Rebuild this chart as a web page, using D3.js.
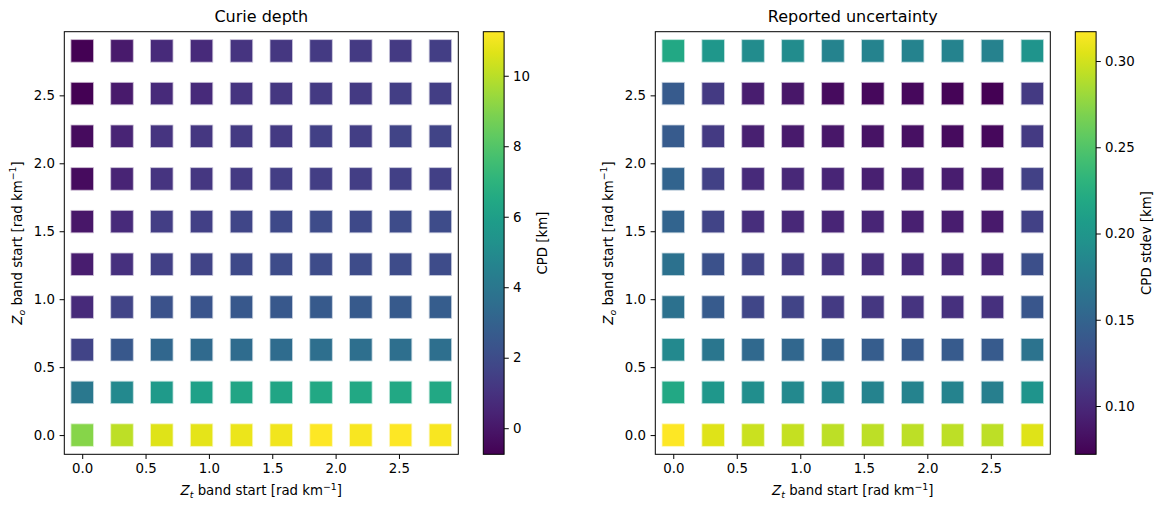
<!DOCTYPE html>
<html>
<head>
<meta charset="utf-8">
<script src="https://cdn.jsdelivr.net/npm/d3@7"></script>
<style>
  body { margin: 0; background: #fff; }
  text { font-family: "DejaVu Sans", sans-serif; fill: #000; }
</style>
</head>
<body>
<svg id="fig" width="1166" height="510"></svg>
<script>
// band starts (rad/km), one per column / row
const ztStarts = [0, 0.314, 0.628, 0.942, 1.257, 1.571, 1.885, 2.199, 2.513, 2.827];
const zoStarts = [0, 0.314, 0.628, 0.942, 1.257, 1.571, 1.885, 2.199, 2.513, 2.827];

// Curie depth [km], rows follow zoStarts (bottom -> top), columns follow ztStarts
const cpd = [
  [9.09, 10.05, 10.65, 10.77, 10.89, 11.01, 11.25, 11.13, 11.25, 11.13],
  [4.06, 4.90, 5.73, 6.09, 6.33, 6.33, 6.45, 6.45, 6.45, 6.45],
  [1.66, 2.50, 3.22, 3.34, 3.46, 3.46, 3.58, 3.58, 3.58, 3.58],
  [0.70, 1.66, 2.26, 2.38, 2.50, 2.50, 2.62, 2.62, 2.62, 2.74],
  [0.22, 0.94, 1.54, 1.66, 1.90, 2.02, 2.02, 2.02, 2.02, 2.02],
  [-0.02, 0.70, 1.42, 1.54, 1.78, 1.90, 2.02, 1.90, 2.02, 2.02],
  [-0.38, 0.46, 1.06, 1.18, 1.30, 1.42, 1.42, 1.42, 1.54, 1.54],
  [-0.38, 0.46, 1.06, 1.18, 1.30, 1.30, 1.54, 1.42, 1.66, 1.66],
  [-0.74, 0.10, 0.70, 0.70, 1.06, 1.18, 1.30, 1.30, 1.42, 1.42],
  [-0.70, 0.10, 0.70, 0.70, 1.06, 1.18, 1.30, 1.30, 1.30, 1.42]
];

// reported CPD stdev [km], same layout
const cpdStd = [
  [0.317, 0.305, 0.297, 0.295, 0.293, 0.293, 0.293, 0.293, 0.293, 0.305],
  [0.219, 0.202, 0.192, 0.187, 0.185, 0.182, 0.182, 0.182, 0.177, 0.199],
  [0.187, 0.168, 0.155, 0.153, 0.148, 0.143, 0.141, 0.141, 0.141, 0.165],
  [0.163, 0.141, 0.123, 0.121, 0.114, 0.111, 0.109, 0.106, 0.106, 0.138],
  [0.163, 0.133, 0.121, 0.114, 0.109, 0.104, 0.101, 0.099, 0.097, 0.131],
  [0.150, 0.121, 0.104, 0.099, 0.097, 0.097, 0.094, 0.092, 0.089, 0.119],
  [0.150, 0.119, 0.101, 0.099, 0.097, 0.094, 0.094, 0.092, 0.089, 0.119],
  [0.141, 0.114, 0.094, 0.089, 0.087, 0.084, 0.082, 0.079, 0.077, 0.114],
  [0.141, 0.114, 0.092, 0.087, 0.079, 0.077, 0.077, 0.074, 0.072, 0.114],
  [0.219, 0.202, 0.190, 0.190, 0.182, 0.182, 0.182, 0.182, 0.180, 0.199]
];

const axisTicks = [0, 0.5, 1.0, 1.5, 2.0, 2.5];
const cpdTicks = [0, 2, 4, 6, 8, 10];
const stdTicks = [0.10, 0.15, 0.20, 0.25, 0.30];

const svg = d3.select('#fig');
const yTop = 31.7, yBot = 454.3;
const fs = 13.33, tick = 4.7;

// matplotlib-like 5% margins around the data
const ext = d3.extent(ztStarts);
const pad = (ext[1] - ext[0]) * 0.05;
const dom = [ext[0] - pad, ext[1] + pad];

function axisLabel(g, sub, x, y, rot) {
  const t = g.append('text')
    .attr('text-anchor', 'middle')
    .attr('font-size', fs)
    .attr('transform', `translate(${x},${y})` + (rot ? ' rotate(-90)' : ''));
  t.append('tspan').attr('font-style', 'italic').text('Z');
  t.append('tspan').attr('font-style', 'italic').attr('font-size', 9.4).attr('dy', 2.8).text(sub);
  t.append('tspan').attr('dy', -2.8).text(' band start [rad km');
  t.append('tspan').attr('font-size', 9.4).attr('dy', -5.5).text('\u22121');
  t.append('tspan').attr('dy', 5.5).text(']');
}

function panel(opt) {
  const g = svg.append('g');
  const x = d3.scaleLinear().domain(dom).range([opt.left, opt.right]);
  const y = d3.scaleLinear().domain(dom).range([yBot, yTop]);
  const vExt = d3.extent(opt.values.flat());
  const color = d3.scaleSequential(d3.interpolateViridis).domain(vExt);

  // points
  const pts = [];
  opt.values.forEach((row, i) => row.forEach((v, j) => pts.push({ zt: ztStarts[j], zo: zoStarts[i], v })));
  const s = 22.5;
  g.selectAll('rect.pt').data(pts).enter().append('rect')
    .attr('class', 'pt')
    .attr('x', d => x(d.zt) - s / 2)
    .attr('y', d => y(d.zo) - s / 2)
    .attr('width', s).attr('height', s)
    .attr('fill', d => color(d.v))
    .attr('stroke', d => d3.interpolateRgb(color(d.v), '#fff')(0.72))
    .attr('stroke-width', 0.8);

  // axes
  const xa = g.append('g').attr('transform', `translate(0,${yBot})`)
    .call(d3.axisBottom(x).tickValues(axisTicks).tickFormat(d3.format('.1f')).tickSize(tick).tickPadding(4.2));
  const ya = g.append('g').attr('transform', `translate(${opt.left},0)`)
    .call(d3.axisLeft(y).tickValues(axisTicks).tickFormat(d3.format('.1f')).tickSize(tick).tickPadding(4.7));
  [xa, ya].forEach(a => {
    a.select('.domain').remove();
    a.selectAll('line').attr('stroke', '#000').attr('stroke-width', 1);
    a.selectAll('text').attr('font-size', fs).attr('font-family', 'DejaVu Sans').attr('fill', '#000');
  });

  g.append('rect')
    .attr('x', opt.left).attr('y', yTop)
    .attr('width', opt.right - opt.left).attr('height', yBot - yTop)
    .attr('fill', 'none').attr('stroke', '#000').attr('stroke-width', 1);

  g.append('text')
    .attr('x', (opt.left + opt.right) / 2).attr('y', 22)
    .attr('text-anchor', 'middle').attr('font-size', 16)
    .text(opt.title);

  axisLabel(g, 't', (opt.left + opt.right) / 2, 495, false);
  axisLabel(g, 'o', opt.left - 42.5, (yTop + yBot) / 2, true);

  // colorbar
  const gid = 'grad' + opt.id;
  const grad = svg.append('defs').append('linearGradient')
    .attr('id', gid).attr('x1', 0).attr('x2', 0).attr('y1', 1).attr('y2', 0);
  d3.range(0, 1.0001, 0.05).forEach(t => {
    grad.append('stop').attr('offset', t).attr('stop-color', d3.interpolateViridis(t));
  });
  const cbW = 20.8;
  g.append('rect')
    .attr('x', opt.cb).attr('y', yTop).attr('width', cbW).attr('height', yBot - yTop)
    .attr('fill', `url(#${gid})`).attr('stroke', '#000').attr('stroke-width', 1);
  const cy = d3.scaleLinear().domain(vExt).range([yBot, yTop]);
  const ca = g.append('g').attr('transform', `translate(${opt.cb + cbW},0)`)
    .call(d3.axisRight(cy).tickValues(opt.ticks).tickFormat(opt.fmt).tickSize(tick).tickPadding(4.2));
  ca.select('.domain').remove();
  ca.selectAll('line').attr('stroke', '#000').attr('stroke-width', 1);
  ca.selectAll('text').attr('font-size', fs).attr('font-family', 'DejaVu Sans').attr('fill', '#000');

  g.append('text')
    .attr('text-anchor', 'middle').attr('font-size', fs)
    .attr('transform', `translate(${opt.cbLabelX},${(yTop + yBot) / 2}) rotate(-90)`)
    .text(opt.cbLabel);
}

panel({ id: 1, left: 64.3, right: 458.3, title: 'Curie depth', values: cpd,
  cb: 483.3, ticks: cpdTicks, fmt: d3.format('d'), cbLabel: 'CPD [km]', cbLabelX: 547 });
panel({ id: 2, left: 655.3, right: 1050.3, title: 'Reported uncertainty', values: cpdStd,
  cb: 1075.3, ticks: stdTicks, fmt: d3.format('.2f'), cbLabel: 'CPD stdev [km]', cbLabelX: 1151 });
</script>
</body>
</html>
